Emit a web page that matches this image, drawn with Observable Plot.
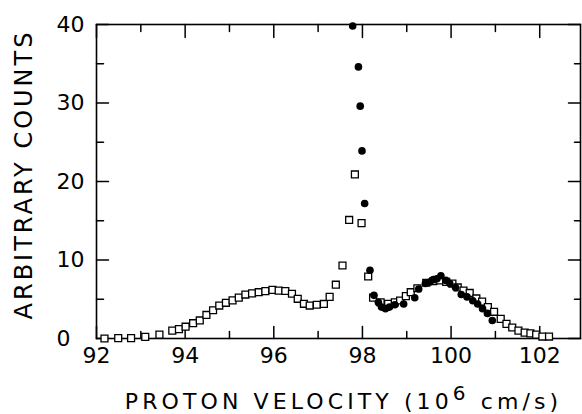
<!DOCTYPE html>
<html><head><meta charset="utf-8">
<script src="https://cdn.jsdelivr.net/npm/d3@7"></script>
<script src="https://cdn.jsdelivr.net/npm/@observablehq/plot@0.6"></script>
<style>html,body{margin:0;padding:0;background:#fff} svg{display:block}</style>
</head><body><div id="chart"></div>
<script>
// Open squares series
const squareX = [92.18,92.49,92.78,93.10,93.42,93.71,93.86,94.01,94.18,94.33,94.48,94.63,94.77,94.92,95.07,95.21,95.36,95.51,95.66,95.81,95.97,96.11,96.26,96.41,96.54,96.68,96.81,96.97,97.13,97.26,97.40,97.55,97.70,97.83,97.98,98.13,98.24,98.41,98.58,98.73,98.85,98.98,99.09,99.24,99.44,99.60,99.74,99.89,100.03,100.15,100.28,100.42,100.57,100.70,100.83,100.97,101.12,101.25,101.38,101.52,101.66,101.79,101.92,102.06,102.21];
const squareY = [0.0,0.05,0.05,0.2,0.5,1.0,1.2,1.5,1.95,2.3,3.0,3.6,4.2,4.55,4.85,5.2,5.6,5.75,5.9,6.03,6.2,6.1,6.05,5.7,5.06,4.42,4.2,4.3,4.4,5.3,6.85,9.3,15.1,20.9,14.7,7.9,5.2,4.6,4.42,4.6,4.84,5.4,5.9,6.4,7.1,7.3,7.4,7.2,7.0,6.5,6.1,5.8,5.1,4.7,4.0,3.4,2.5,1.87,1.4,1.0,0.75,0.65,0.5,0.25,0.25];
// Filled circles series
const circleX = [97.78,97.91,97.95,97.99,98.05,98.17,98.26,98.36,98.43,98.52,98.61,98.73,98.93,99.18,99.27,99.42,99.52,99.60,99.68,99.77,99.88,99.97,100.10,100.23,100.36,100.49,100.60,100.71,100.82,100.93];
const circleY = [39.8,34.6,29.6,23.9,17.2,8.7,5.5,4.6,4.0,3.8,4.0,4.3,4.4,5.2,6.3,7.0,7.2,7.5,7.6,8.0,7.4,7.0,6.5,5.6,5.3,4.8,4.4,3.8,3.2,2.3];

const xTickLabels = [92,94,96,98,100,102];
const xMinorTicks = [93,95,97,99,101];
const yTickLabels = [10,20,30,40];
const yZeroLabel = [0];
const yMajorTicks = [0,10,20,30,40];
const yMinorTicks = [5,15,25,35];
const xTitle = "PROTON VELOCITY (10⁶ cm/s)";
const yTitle = "ARBITRARY COUNTS";

const squares = squareX.map((x, i) => ({x, y: squareY[i]}));
const circles = circleX.map((x, i) => ({x, y: circleY[i]}));
const xMajor = xTickLabels;
const yLo = 0, yHi = 40, xLo = 92, xHi = 102.92;

const tickShape = {draw(ctx, l) { ctx.moveTo(0, 0); ctx.lineTo(0, -l); }};
const tick = (data, opts) => Plot.vector(data, {shape: tickShape, anchor: "start", stroke: "black", strokeWidth: 1.5, ...opts});

const chart = Plot.plot({
  width: 582, height: 414,
  marginLeft: 96, marginRight: 2, marginTop: 24, marginBottom: 76,
  style: {fontFamily: "DejaVu Sans", background: "white", color: "black"},
  x: {domain: [xLo, xHi], label: null},
  y: {domain: [yLo, yHi], label: null},
  marks: [
    Plot.frame({stroke: "black", strokeWidth: 1.6}),
    tick(xMajor, {x: d => d, y: () => yLo, length: 12, rotate: 0}),
    tick(xMinorTicks, {x: d => d, y: () => yLo, length: 7, rotate: 0}),
    tick(xMajor, {x: d => d, y: () => yHi, length: 13, rotate: 180}),
    tick(xMinorTicks, {x: d => d, y: () => yHi, length: 7, rotate: 180}),
    tick(yMajorTicks, {x: () => xLo, y: d => d, length: 12, rotate: 90}),
    tick(yMinorTicks, {x: () => xLo, y: d => d, length: 7, rotate: 90}),
    tick(yMajorTicks, {x: () => xHi, y: d => d, length: 12, rotate: -90}),
    tick(yMinorTicks, {x: () => xHi, y: d => d, length: 6, rotate: -90}),
    Plot.axisX(xTickLabels, {tickSize: 0, tickPadding: 9, fontSize: 22, label: null}),
    Plot.axisY(yTickLabels, {tickSize: 0, tickPadding: 12, fontSize: 22, label: null}),
    Plot.axisY(yZeroLabel, {tickSize: 0, tickPadding: 26, fontSize: 22, label: null}),
    Plot.dot(squares, {x: "x", y: "y", symbol: "square", r: 3.9, stroke: "black", strokeWidth: 1.3, fill: "white"}),
    Plot.dot(circles, {x: "x", y: "y", r: 3.8, fill: "black", stroke: "none"}),
    Plot.text([xTitle], {frameAnchor: "bottom", dx: 5, dy: 63, lineAnchor: "middle", textAnchor: "middle", text: d => d, fontSize: 22}),
    Plot.text([yTitle], {frameAnchor: "left", dx: -72, dy: -7, rotate: -90, lineAnchor: "middle", textAnchor: "middle", text: d => d, fontSize: 24})
  ]
});
document.getElementById("chart").appendChild(chart);

d3.select(chart).selectAll("text").each(function() {
  const t = d3.select(this);
  const s = this.textContent;
  if (s === xTitle) {
    t.text(null);
    t.append("tspan").text("PROTON VELOCITY (10");
    t.append("tspan").attr("dy", "-0.45em").attr("font-size", "20").text("6");
    t.append("tspan").attr("dy", "0.45em").text(" cm/s)");
    t.style("letter-spacing", "4.1px");
  } else if (s === yTitle) {
    t.style("letter-spacing", "3px");
  }
});
</script>
</body></html>
